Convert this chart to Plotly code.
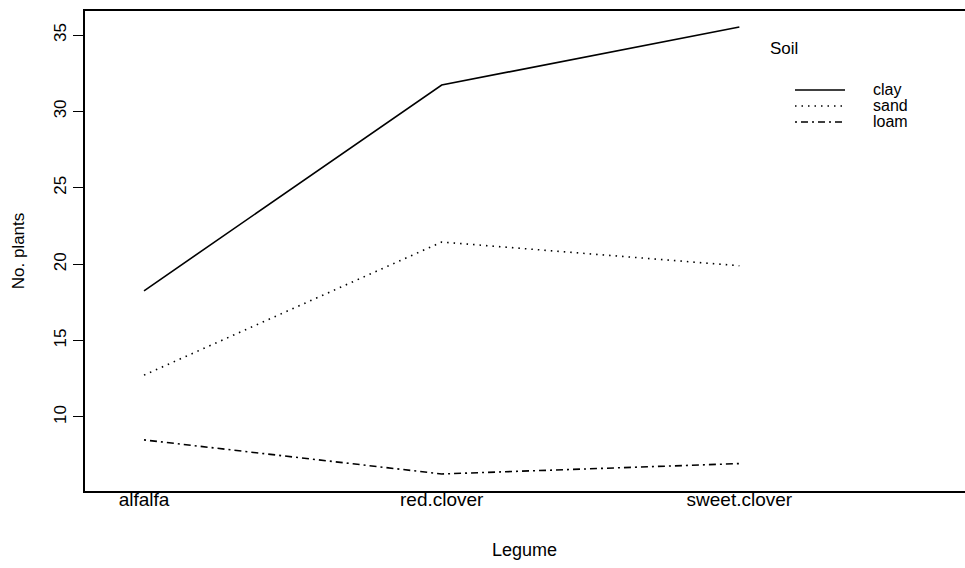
import plotly.graph_objects as go

# Mean number of plants per legume, split by soil type
legumes = ["alfalfa", "red.clover", "sweet.clover"]
soils = ["clay", "sand", "loam"]
clay = [18.26, 31.73, 35.53]
sand = [12.74, 21.45, 19.9]
loam = [8.5, 6.27, 6.95]
y_ticks = [10, 15, 20, 25, 30, 35]

series = {"clay": clay, "sand": sand, "loam": loam}
dashes = {"clay": "solid", "sand": "1.5px,5px", "loam": "2px,4px,7px,4px"}

W, H = 965, 568
L, R, T, B = 84, 0, 10, 76
FONT = "Liberation Sans, Arial, sans-serif"

xpos = [1, 2, 3]

fig = go.Figure()
for s in soils:
    fig.add_trace(go.Scatter(
        x=xpos, y=series[s], mode="lines", name=s,
        line=dict(color="black", width=1.6, dash=dashes[s]),
        showlegend=False, hoverinfo="x+y+name",
    ))


def px_x(px):
    return (px - L) / (W - L - R)


def px_y(py):
    return (H - B - py) / (H - B - T)


# Frame: left, bottom and top edges only (open on the right)
frame = dict(color="black", width=2)
shapes = [
    dict(type="line", xref="paper", yref="paper", x0=0, x1=0, y0=-0.002, y1=1.002, line=frame),
    dict(type="line", xref="paper", yref="paper", x0=0, x1=1.0, y0=0, y1=0, line=frame),
    dict(type="line", xref="paper", yref="paper", x0=0, x1=1.0, y0=1, y1=1, line=frame),
]

# Hand-drawn legend block with title
annotations = [dict(
    x=px_x(768), y=px_y(48), xref="paper", yref="paper", text="Soil",
    showarrow=False, xanchor="left", yanchor="middle",
    font=dict(family=FONT, size=17, color="black"),
)]
for i, s in enumerate(soils):
    ly = 90 + 16 * i
    shapes.append(dict(
        type="line", xref="paper", yref="paper",
        x0=px_x(795), x1=px_x(845), y0=px_y(ly), y1=px_y(ly),
        line=dict(color="black", width=1.6, dash=dashes[s]),
    ))
    annotations.append(dict(
        x=px_x(871), y=px_y(ly), xref="paper", yref="paper", text=s,
        showarrow=False, xanchor="left", yanchor="middle",
        font=dict(family=FONT, size=16, color="black"),
    ))

fig.update_layout(
    width=W, height=H,
    margin=dict(l=L, r=R, t=T, b=B),
    paper_bgcolor="white", plot_bgcolor="white",
    font=dict(family=FONT, color="black"),
    shapes=shapes, annotations=annotations,
    xaxis=dict(
        range=[0.7984, 3.758], tickmode="array", tickvals=xpos, ticktext=legumes,
        showgrid=False, zeroline=False, showline=False,
        ticks="", ticklabelstandoff=-6,
        tickfont=dict(family=FONT, size=19, color="black"),
        title=dict(text="Legume", font=dict(family=FONT, size=18, color="black"), standoff=34),
    ),
    yaxis=dict(
        range=[5.09, 36.64], tickmode="array", tickvals=y_ticks,
        showgrid=False, zeroline=False, showline=False,
        ticks="outside", ticklen=10, tickcolor="black", tickwidth=1,
        tickangle=-90,
        tickfont=dict(family=FONT, size=17, color="black"),
        title=dict(text="No. plants", font=dict(family=FONT, size=17, color="black"), standoff=22),
    ),
)

fig.write_html("out.html")
